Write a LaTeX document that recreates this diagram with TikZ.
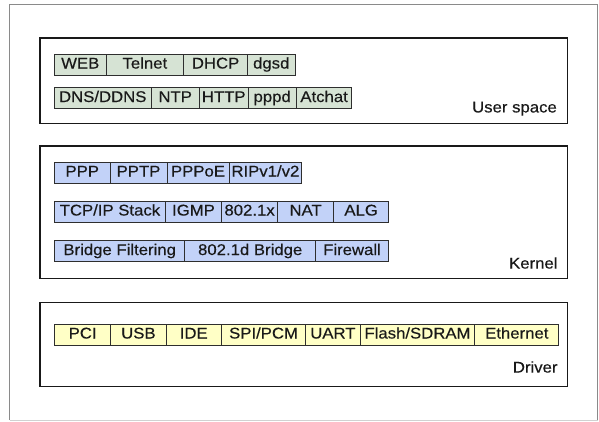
\documentclass[tikz,border=0pt]{standalone}
\usepackage{fontspec}
\setmainfont{Liberation Sans}[FakeStretch=1.08,FakeBold=0.35]
\definecolor{ufill}{HTML}{D6E3D4}
\definecolor{kfill}{HTML}{C2D2F8}
\definecolor{dfill}{HTML}{FFFFC6}
\definecolor{cellline}{HTML}{2E2E2E}
\definecolor{frame}{HTML}{8A8A8A}
\begin{document}
\begin{tikzpicture}[x=1pt,y=-1pt,
  txt/.style={font=\fontsize{15.5}{18}\selectfont, text=black!90},
  cell/.style={txt, draw=cellline, line width=0.9pt, inner sep=0pt, minimum height=21pt,
    text height=11pt, text depth=3pt},
  ucell/.style={cell, fill=ufill},
  kcell/.style={cell, fill=kfill},
  dcell/.style={cell, fill=dfill},
  layer/.style={draw=black!90, line width=1.1pt, inner sep=0pt},
  lbl/.style={txt, anchor=east, inner sep=0pt}]
\useasboundingbox (0,0) rectangle (599,421);
\fill[white] (0,0) rectangle (599,421);
% outer frame
\draw[frame, line width=1.8pt] (9.5,420) -- (9.5,4.5) -- (597.5,4.5) -- (597.5,420);
\draw[black!18, line width=0.8pt] (9.5,420) -- (597.5,420);
% layer boxes
\node[layer, minimum width=527.5pt, minimum height=85.5pt] (user) at (303.75,80.75) {};
\node[layer, minimum width=527.5pt, minimum height=132.5pt] (kernel) at (303.75,212.25) {};
\node[layer, minimum width=527.5pt, minimum height=84pt] (driver) at (303.75,344.7) {};
% user space
\node[ucell, minimum width=51.5pt] (web) at (80.25,64.5) {WEB};
\node[ucell, minimum width=77.7pt] (telnet) at (144.85,64.5) {Telnet};
\node[ucell, minimum width=63.8pt] (dhcp) at (215.6,64.5) {DHCP};
\node[ucell, minimum width=47.5pt] (dgsd) at (271.25,64.5) {dgsd};
\node[ucell, minimum width=96.5pt] (dns) at (102.75,98) {DNS/DDNS};
\node[ucell, minimum width=48.4pt] (ntp) at (175.2,98) {NTP};
\node[ucell, minimum width=48.6pt] (http) at (223.7,98) {HTTP};
\node[ucell, minimum width=48.4pt] (pppd) at (272.2,98) {pppd};
\node[ucell, minimum width=55.4pt] (atchat) at (324.1,98) {Atchat};
\node[lbl] (userlbl) at (557,108.7) {User space};
% kernel
\node[kcell, minimum width=55.5pt] (ppp) at (82.25,172.5) {PPP};
\node[kcell, minimum width=57pt] (pptp) at (138.5,172.5) {PPTP};
\node[kcell, minimum width=62pt] (pppoe) at (198,172.5) {PPPoE};
\node[kcell, minimum width=72.8pt] (rip) at (265.4,172.5) {RIPv1/v2};
\node[kcell, minimum width=110.9pt] (tcpip) at (109.95,211.5) {TCP/IP Stack};
\node[kcell, minimum width=56.1pt] (igmp) at (193.45,211.5) {IGMP};
\node[kcell, minimum width=56.2pt] (dotx) at (249.6,211.5) {802.1x};
\node[kcell, minimum width=55.8pt] (nat) at (305.6,211.5) {NAT};
\node[kcell, minimum width=55.3pt] (alg) at (361.15,211.5) {ALG};
\node[kcell, minimum width=130.4pt] (bf) at (119.7,251) {Bridge Filtering};
\node[kcell, minimum width=130.6pt] (bridge) at (250.2,251) {802.1d Bridge};
\node[kcell, minimum width=73pt] (fw) at (352,251) {Firewall};
\node[lbl] (kernellbl) at (557.7,263) {Kernel};
% driver
\node[dcell, minimum width=56.3pt] (pci) at (82.65,334.5) {PCI};
\node[dcell, minimum width=55.2pt] (usb) at (138.4,334.5) {USB};
\node[dcell, minimum width=55.5pt] (ide) at (193.75,334.5) {IDE};
\node[dcell, minimum width=84.1pt] (spi) at (263.55,334.5) {SPI/PCM};
\node[dcell, minimum width=54.6pt] (uart) at (332.9,334.5) {UART};
\node[dcell, minimum width=114.6pt] (flash) at (417.5,334.5) {Flash/SDRAM};
\node[dcell, minimum width=84pt] (eth) at (516.8,334.5) {Ethernet};
\node[lbl] (driverlbl) at (557.7,367) {Driver};
\end{tikzpicture}
\end{document}
